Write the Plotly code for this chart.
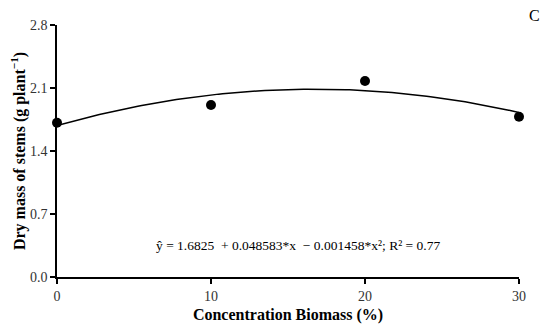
import numpy as np
import plotly.graph_objects as go

# Data
concentration = [0, 10, 20, 30]
dry_mass = [1.714, 1.911, 2.178, 1.781]

# Regression coefficients shown on the chart
b0, b1, b2 = 1.6825, 0.048583, -0.001458
equation_text = "ŷ = 1.6825  + 0.048583*x  − 0.001458*x²; R² = 0.77"

x_tick_vals = [0, 10, 20, 30]
y_tick_vals = [0.0, 0.7, 1.4, 2.1, 2.8]
y_tick_text = ["0.0", "0.7", "1.4", "2.1", "2.8"]

xfit = np.linspace(0, 30, 121)
yfit = b0 + b1 * xfit + b2 * xfit ** 2

font_family = "Liberation Serif"
# page has an 8px body margin; target plot area in page px: x 57..519, y 25..277
OFF = 8
W, H = 550 - OFF, 334 - OFF
L, T = 57 - OFF, 25 - OFF
R = W - (519 - OFF)
B = H - (277 - OFF)
pw, ph = W - L - R, H - T - B

def px(xp):
    return (xp - OFF - L) / pw

def py(yp):
    return (H - B - (yp - OFF)) / ph

fig = go.Figure()
fig.add_trace(go.Scatter(x=xfit, y=yfit, mode="lines",
                         line=dict(color="black", width=1.5),
                         showlegend=False, hoverinfo="skip", cliponaxis=False))
fig.add_trace(go.Scatter(x=concentration, y=dry_mass, mode="markers",
                         marker=dict(color="black", size=10),
                         showlegend=False, cliponaxis=False))

fig.update_layout(
    width=W, height=H,
    margin=dict(l=L, r=R, t=T, b=B, autoexpand=False),
    paper_bgcolor="white", plot_bgcolor="white",
    font=dict(family=font_family, color="#333333", size=14),
    xaxis=dict(range=[0, 30], tickvals=x_tick_vals, showgrid=False, zeroline=False,
               automargin=False,
               showline=True, linecolor="black", linewidth=1.5,
               ticks="outside", ticklen=5, tickcolor="black", tickwidth=1.5,
               tickfont=dict(family=font_family, size=14, color="#333333"),
               title=dict(text="<b>Concentration Biomass (%)</b>",
                          font=dict(family=font_family, size=16, color="black"),
                          standoff=6)),
    yaxis=dict(range=[0, 2.8], tickvals=y_tick_vals, ticktext=y_tick_text,
               showgrid=False, zeroline=False, automargin=False,
               showline=True, linecolor="black", linewidth=1.5,
               ticks="outside", ticklen=5, tickcolor="black", tickwidth=1.5,
               tickfont=dict(family=font_family, size=14, color="#333333"),
               title=dict(text="<b>Dry mass of stems (g plant<sup>−1</sup>)</b>",
                          font=dict(family=font_family, size=16, color="black"),
                          standoff=8)),
    annotations=[
        dict(text=equation_text, x=px(298), y=py(245),
             xref="paper", yref="paper", showarrow=False,
             xanchor="center", yanchor="middle",
             font=dict(family=font_family, size=13.5, color="black")),
        dict(text="C", x=px(534), y=py(16),
             xref="paper", yref="paper", showarrow=False,
             xanchor="center", yanchor="middle",
             font=dict(family=font_family, size=16, color="black")),
    ],
)
fig.write_html("out.html")
